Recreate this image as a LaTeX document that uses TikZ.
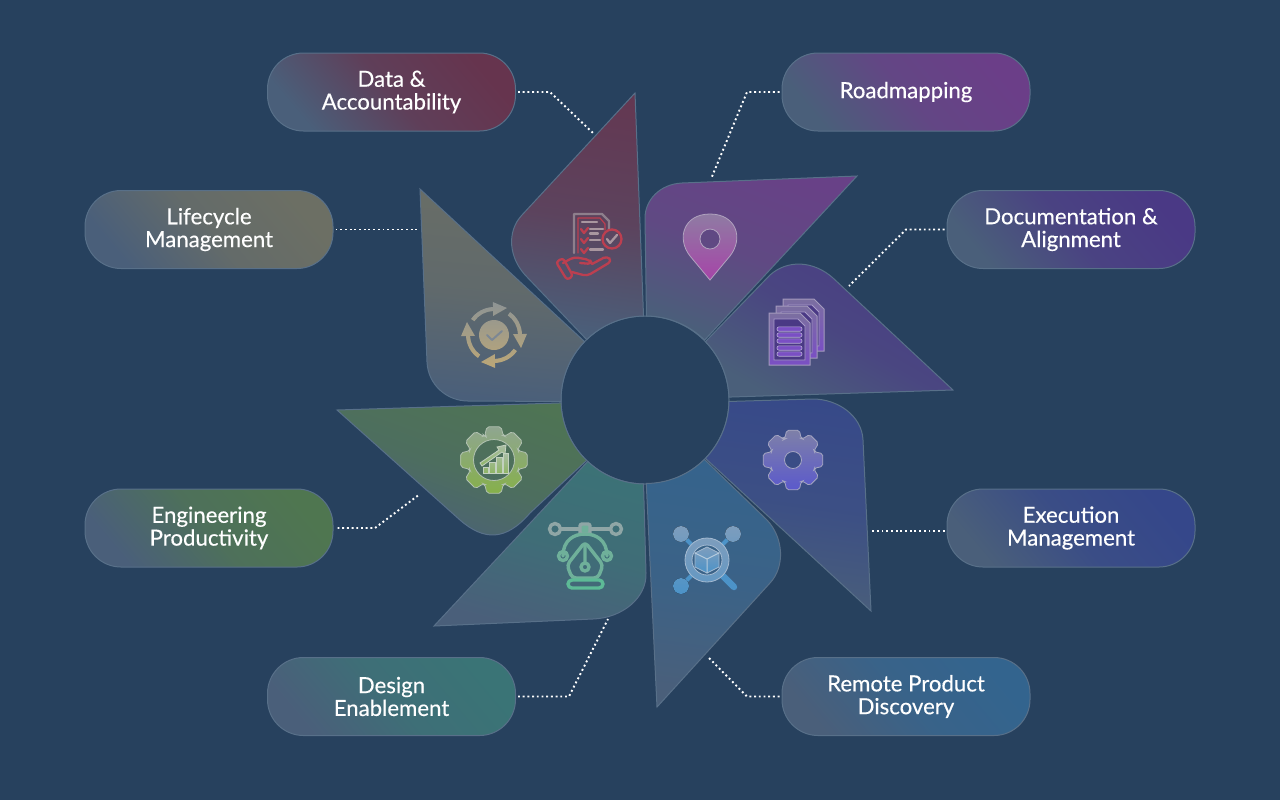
\documentclass[tikz,border=0pt]{standalone}
\usepackage{fontspec}
\setmainfont{Lato}
\newfontfamily\pillfont[FakeBold=0.35]{Lato}
\usepackage{tikz}
\usetikzlibrary{arrows,shapes,positioning}
\definecolor{bgblue}{HTML}{27415E}
\definecolor{edgeblue}{HTML}{587089}
\definecolor{greyblue}{HTML}{4A5F7A}
\definecolor{dataTone}{HTML}{66344E}
\definecolor{roadTone}{HTML}{6B3E88}
\definecolor{docsTone}{HTML}{4A3985}
\definecolor{execTone}{HTML}{35478A}
\definecolor{remoteTone}{HTML}{33648E}
\definecolor{designTone}{HTML}{3A7476}
\definecolor{engTone}{HTML}{4F7650}
\definecolor{lifeTone}{HTML}{6C6F64}
\definecolor{pinTop}{HTML}{8F7BA3}
\definecolor{pinLow}{HTML}{A644A8}
\definecolor{cogTop}{HTML}{7E80A8}
\definecolor{cogLow}{HTML}{5B59CC}
\definecolor{engTop}{HTML}{8FA690}
\definecolor{engLow}{HTML}{86B04A}
\definecolor{barTop}{HTML}{A9BDA4}
\definecolor{barLow}{HTML}{8FB566}
\definecolor{lifeTop}{HTML}{8E9494}
\definecolor{lifeLow}{HTML}{BCA777}
\definecolor{tickLife}{HTML}{7C8794}
\definecolor{pageTop}{HTML}{7B6FA0}
\definecolor{pageLow}{HTML}{7A4FC4}
\definecolor{pageEdge}{HTML}{A79BC8}
\definecolor{barEdge}{HTML}{B7ADD6}
\definecolor{listGrey}{HTML}{8E7F8C}
\definecolor{listPale}{HTML}{A9969F}
\definecolor{listRed}{HTML}{BC3F50}
\definecolor{penGrey}{HTML}{8FA6A6}
\definecolor{penMid}{HTML}{6FB09A}
\definecolor{penLow}{HTML}{5DBA96}
\definecolor{cubeTop}{HTML}{7D9DBD}
\definecolor{cubeLow}{HTML}{4C93C8}
\definecolor{cubeEdge}{HTML}{B6CBDD}
\tikzset{
  petal/.style 2 args={draw=edgeblue,line width=.5pt,top color=#1!90!greyblue,bottom color=greyblue,middle color=#1!65!greyblue,shading angle=#2},
  pill/.style={rectangle,draw=edgeblue,line width=.5pt,rounded corners=18pt,minimum width=124pt,minimum height=39pt,inner sep=0pt,
    execute at begin node=\vspace*{2.4pt},
    text=white,align=center,font=\pillfont\fontsize{11.1}{11.4}\selectfont,top color=#1,bottom color=greyblue,middle color=#1!75!greyblue,shading angle=-50},
  dotline/.style={white,line width=.95pt,dash pattern=on .95pt off 1.4pt},
  glass/.style 2 args={draw=#1!70!white,line width=.4pt,top color=#1,bottom color=#2,even odd rule},
  stroke/.style={line width=#1,line cap=round,line join=round},
  stroke/.default=1pt
}
\begin{document}
\begin{tikzpicture}[x=.5pt,y=.5pt]
    \useasboundingbox (0,0) rectangle (1280,-800);
    \fill [bgblue] (0,0) rectangle (1280,-800);
    \node [circle,draw=edgeblue,line width=.5pt,fill=bgblue,minimum size=84pt,inner sep=0pt,outer sep=0pt] (hub) at (645,-400) {};

    \draw [petal={dataTone}{-8}] (hub.134) arc[start angle=134,end angle=91,radius=84] -- (635,-93) -- (522,-215) .. controls (506,-232) and (509,-259) .. (527,-277) -- cycle;
    \draw [petal={roadTone}{-20}] (hub.89.5) arc[start angle=89.5,end angle=45.5,radius=84] -- (857,-176) -- (682,-183) .. controls (660,-184) and (645,-200) .. (645,-218) -- cycle;
    \draw [petal={docsTone}{-30}] (hub.44) arc[start angle=44,end angle=2,radius=84] -- (953,-390) -- (833,-278) .. controls (814,-261) and (788,-259) .. (770,-275) -- cycle;
    \draw [petal={execTone}{-8}] (hub.-1) arc[start angle=-1,end angle=-44,radius=84] -- (871,-611) -- (863,-440) .. controls (862,-416) and (838,-399) .. (813,-399) -- cycle;
    \draw [petal={remoteTone}{-8}] (hub.-45.5) arc[start angle=-45.5,end angle=-89.5,radius=84] -- (657,-707) -- (770,-583) .. controls (785,-567) and (784,-538) .. (767,-520) -- cycle;
    \draw [petal={designTone}{-15}] (hub.-91) arc[start angle=-91,end angle=-133,radius=84] -- (434,-626) -- (593,-619) .. controls (622,-618) and (647,-598) .. (646,-573) -- cycle;
    \draw [petal={engTone}{-20}] (hub.-134) arc[start angle=-134,end angle=-178,radius=84] -- (337,-410) -- (460,-520) .. controls (484,-541) and (506,-541) .. (530,-513) -- cycle;
    \draw [petal={lifeTone}{-5}] (hub.181) arc[start angle=181,end angle=136,radius=84] -- (420,-189) -- (427,-362) .. controls (428,-385) and (447,-401) .. (468,-401) -- cycle;

    \node [pill=dataTone] (pillData) at (391.5,-92) {Data \&\\Accountability};
    \node [pill=roadTone] (pillRoad) at (906,-92) {Roadmapping};
    \node [pill=docsTone] (pillDocs) at (1071,-229.5) {Documentation \&\\Alignment};
    \node [pill=execTone] (pillExec) at (1071,-528) {Execution\\Management};
    \node [pill=remoteTone] (pillRemote) at (906,-696.5) {Remote Product\\Discovery};
    \node [pill=designTone] (pillDesign) at (391.5,-696.5) {Design\\Enablement};
    \node [pill=engTone] (pillEng) at (209,-528) {Engineering\\Productivity};
    \node [pill=lifeTone] (pillLife) at (209,-229.5) {Lifecycle\\Management};

    \coordinate (endData) at (593,-133);
    \coordinate (endRoad) at (711,-179);
    \coordinate (endDocs) at (849,-286);
    \coordinate (endExec) at (870,-531);
    \coordinate (endRemote) at (708,-657);
    \coordinate (endDesign) at (608,-619);
    \coordinate (endEng) at (420,-494);
    \coordinate (endLife) at (418,-229.5);
    \draw [dotline,shorten <=1pt] (pillData.east) -- (550,-92) -- (endData);
    \draw [dotline,shorten <=1pt] (pillRoad.west) -- (747,-92) -- (endRoad);
    \draw [dotline,shorten <=1pt] (pillDocs.west) -- (906,-229.5) -- (endDocs);
    \draw [dotline,shorten <=1pt] (endExec -| pillExec.west) -- (endExec);
    \draw [dotline,shorten <=1pt] (pillRemote.west) -- (747,-696.5) -- (endRemote);
    \draw [dotline,shorten <=1pt] (pillDesign.east) -- (569,-696.5) -- (endDesign);
    \draw [dotline,shorten <=2pt] (pillEng.east) -- (375,-528) -- (endEng);
    \draw [dotline,shorten <=1pt] (pillLife.east) -- (endLife);

    % pin
    \draw [glass={pinTop}{pinLow}] (710,-280) -- (690,-256) .. controls (676,-238) and (684,-214) .. (710,-214) .. controls (736,-214) and (744,-238) .. (730,-256) -- cycle (710,-239) circle (10);

    % gear, execution
    \begin{scope}[shift={(793,-460)}]
        \draw [glass={cogTop}{cogLow},rounded corners=1pt] (-9,21.5) \foreach \a in {90,45,...,-225} { -- ({\a+21}:23) -- ({\a+12}:30.5) -- ({\a-12}:30.5) -- ({\a-21}:23) } -- cycle (0,0) circle (8.5);
    \end{scope}

    % gear, engineering
    \begin{scope}[shift={(494,-460)}]
        \draw [glass={engTop}{engLow},rounded corners=1pt] (-9,24) \foreach \a in {90,45,...,-225} { -- ({\a+21}:26) -- ({\a+12}:34) -- ({\a-12}:34) -- ({\a-21}:26) } -- cycle (0,0) circle (20.5);
        \draw [glass={barTop}{barLow}] (-11,-13) rectangle (-6,-7) (-5,-13) rectangle (1,-2) (2,-13) rectangle (8,3) (9,-13) rectangle (14,7);
        \draw [glass={barTop}{barLow}] (-14,-3) -- (5,10) -- (3,13) -- (12,15) -- (11,6) -- (8,8) -- (-12,-6) -- cycle;
    \end{scope}

    % cycle
    \begin{scope}[shift={(494,-335)}]
        \draw [draw=none,top color=lifeTop,bottom color=lifeLow,middle color=lifeTop!50!lifeLow] (0,0) circle (15)
            \foreach \a in {0,-90,-180,-270} { ({\a+145}:24) arc[start angle=\a+145,end angle=\a+92,radius=24] -- ({\a+93}:19) -- ({\a+64.3}:30) -- ({\a+92}:33) -- ({\a+92}:28) arc[start angle=\a+92,end angle=\a+145,radius=28] -- cycle };
        \draw [stroke,draw=tickLife] (-7,0) -- (-2,-5) -- (8,4);
    \end{scope}

    % pages
    \foreach \dx/\dy in {14/-14,7/-7,0/0} {
        \draw [glass={pageTop}{pageLow},line width=.5pt] (769+\dx,-313-\dy) -- (800+\dx,-313-\dy) -- (810+\dx,-323-\dy) -- (810+\dx,-365-\dy) -- (769+\dx,-365-\dy) -- cycle;
        \draw [fill=docsTone,draw=pageEdge,line width=.4pt] (774+\dx,-319-\dy) -- (798+\dx,-319-\dy) -- (805+\dx,-326-\dy) -- (805+\dx,-360-\dy) -- (774+\dx,-360-\dy) -- cycle;
    }
    \foreach \y in {-329,-335,-341,-348,-354} {
        \draw [draw=barEdge,fill=pageLow,line width=.3pt,rounded corners=1pt] (777,\y+2.2) rectangle (802,\y-2.2);
    }

    % checklist
    \begin{scope}[stroke=1.15pt]
        \draw [listGrey] (574,-253) -- (574,-214) -- (602,-214) -- (609,-221) -- (609,-229);
        \draw [listRed,stroke=.6pt] (578,-253) -- (578,-218) -- (600,-218) -- (605,-224) -- (605,-230);
        \draw [listPale] (582,-222) -- (597,-222) (590,-229) -- (603,-229) (590,-233.5) -- (598,-233.5) (590,-240) -- (600,-240) (590,-249.5) -- (603,-249.5);
        \draw [listRed] (581,-229) -- (584,-233) -- (588,-228) (581,-239) -- (584,-243) -- (588,-238) (581,-249) -- (584,-253) -- (588,-248);
        \draw [listRed] (612,-239) circle (9.5);
        \draw [listPale] (607,-239) -- (610,-243) -- (617,-235);
        \draw [listRed,rounded corners=1.5pt] (556,-262) -- (563,-258) -- (573,-276) -- (567,-280) -- cycle;
        \draw [listRed,rounded corners=2pt] (563,-263) -- (574,-257) -- (590,-260) -- (592,-264) -- (580,-263);
        \draw [listRed,rounded corners=2pt] (572,-272) -- (587,-276) -- (612,-261) -- (607,-256) -- (592,-264);
    \end{scope}

    % pen tool
    \begin{scope}[stroke=1.7pt]
        \draw [penGrey] (561,-529) -- (610,-529);
        \draw [penGrey] (555,-529) circle (5.5) (616,-529) circle (5.5);
        \draw [draw=penGrey,fill=penMid,rounded corners=1pt] (580,-524) rectangle (590,-534);
        \draw [penMid] (563,-556) .. controls (563,-540) and (574,-534) .. (585,-534) .. controls (596,-534) and (607,-540) .. (607,-556);
        \draw [penMid] (563,-556) circle (4.5) (607,-556) circle (4.5);
        \draw [penMid,rounded corners=2pt] (585,-542) -- (567,-565) -- (572,-578) -- (598,-578) -- (603,-565) -- cycle;
        \draw [penMid] (585,-567) circle (4) (585,-546) -- (585,-562);
        \draw [penLow,rounded corners=2pt] (568,-580) rectangle (603,-588);
    \end{scope}

    % cube search
    \begin{scope}[shift={(707,-560)}]
        \draw [stroke=2pt,cubeLow] (-15,15) -- (-26,26) (15,15) -- (26,26) (-15,-15) -- (-26,-26);
        \draw [stroke=3.2pt,cubeLow] (15,-15) -- (27,-27);
        \fill [top color=cubeTop,bottom color=cubeLow] (-26,26) circle (8) (26,26) circle (8) (-26,-26) circle (8);
        \draw [glass={cubeTop}{cubeTop!50!cubeLow}] (0,0) circle (22) (0,0) circle (15);
        \draw [glass={cubeTop}{cubeLow}] (0,13) -- (12,7) -- (12,-7) -- (0,-13) -- (-12,-7) -- (-12,7) -- cycle;
        \draw [stroke=.5pt,cubeEdge] (-12,7) -- (0,1) -- (12,7) (0,1) -- (0,-13);
    \end{scope}
\end{tikzpicture}
\end{document}
